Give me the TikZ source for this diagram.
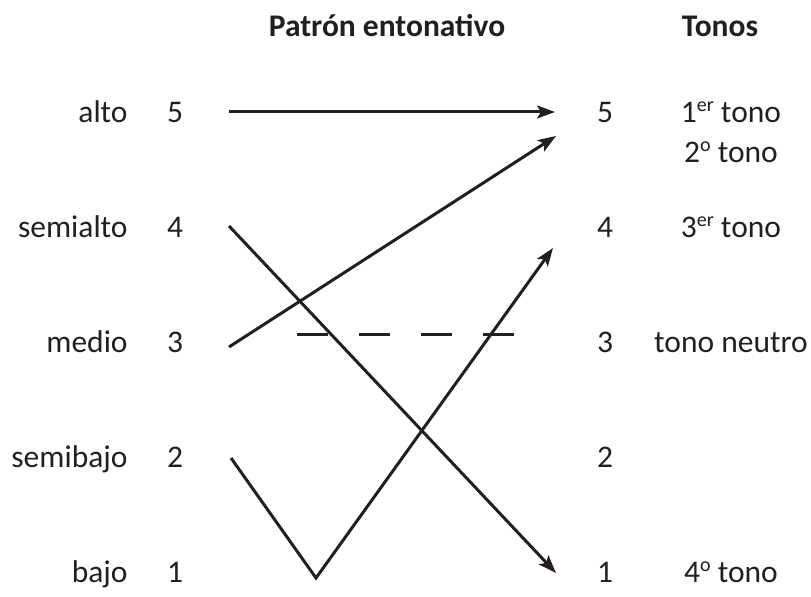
\documentclass[tikz,border=0pt]{standalone}
\usepackage{fontspec}
\setmainfont{Carlito}
\usetikzlibrary{arrows.meta}
\definecolor{ink}{HTML}{231F20}
\newcommand{\ordsup}[1]{\raisebox{0.38em}{\fontsize{10}{10}\selectfont #1}}

\begin{document}
\begin{tikzpicture}[x=0.5pt,y=-0.5pt,
    every node/.style={inner sep=0pt,text=ink,font=\fontsize{15.75}{18}\selectfont},
    level/.style={anchor=base east},
    digit/.style={anchor=base},
    tone/.style={anchor=base},
    title/.style={anchor=base,font=\fontsize{15.75}{18}\selectfont\bfseries},
    line/.style={draw=ink,line width=1.5pt},
    arrow/.style={line,-{Stealth[length=9pt,width=6.5pt,inset=2pt]}}]
  \useasboundingbox (0,0) rectangle (811,597);

  \node[title] (patron) at (387,37) {Patrón entonativo};
  \node[title] (tonos) at (720,37) {Tonos};

  \node[level] (alto) at (128,123) {alto};
  \node[level] (semialto) at (128,238) {semialto};
  \node[level] (medio) at (128,353) {medio};
  \node[level] (semibajo) at (128,468) {semibajo};
  \node[level] (bajo) at (128,583) {bajo};

  \node[digit] (l5) at (175,123) {5};
  \node[digit] (l4) at (175,238) {4};
  \node[digit] (l3) at (175,353) {3};
  \node[digit] (l2) at (175,468) {2};
  \node[digit] (l1) at (175,583) {1};

  \node[digit] (r5) at (605,123) {5};
  \node[digit] (r4) at (605,238) {4};
  \node[digit] (r3) at (605,353) {3};
  \node[digit] (r2) at (605,468) {2};
  \node[digit] (r1) at (605,583) {1};

  \node[tone] (primero) at (731,123) {1\ordsup{er} tono};
  \node[tone] (segundo) at (731,163) {2\ordsup{o} tono};
  \node[tone] (tercero) at (731,238) {3\ordsup{er} tono};
  \node[tone] (neutro) at (731,353) {tono neutro};
  \node[tone] (cuarto) at (731,583) {4\ordsup{o} tono};

  \coordinate (a5) at (229,112);
  \coordinate (a4) at (229,226);
  \coordinate (a3) at (229,347);
  \coordinate (a2) at (231,458);
  \coordinate (fondo) at (316,578);
  \coordinate (b5) at (555,112);
  \coordinate (b5x) at (556,136);
  \coordinate (b4) at (553,248);
  \coordinate (b1) at (556,573);
  \coordinate (guion1) at (297,335);
  \coordinate (guion2) at (516,335);

  \draw[arrow] (a5) -- (b5);
  \draw[arrow] (a3) -- (b5x);
  \draw[arrow] (a4) -- (b1);
  \draw[arrow] (a2) -- (fondo) -- (b4);
  \draw[line,dash pattern=on 15.5pt off 15.5pt] (guion1) -- (guion2);
\end{tikzpicture}
\end{document}
